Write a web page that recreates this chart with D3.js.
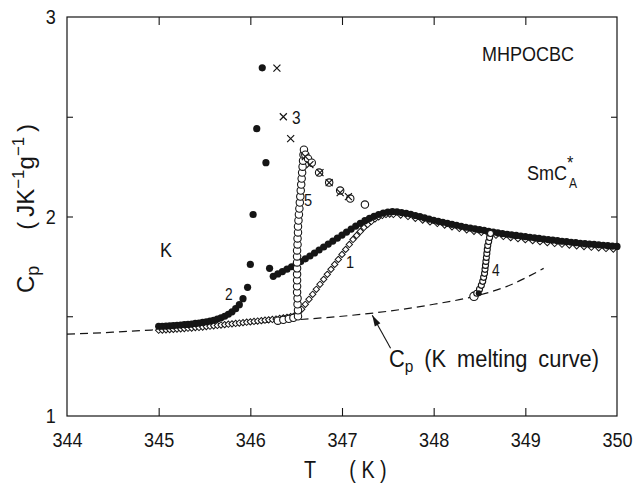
<!DOCTYPE html>
<html><head><meta charset="utf-8">
<script src="https://cdn.jsdelivr.net/npm/d3@7"></script>
<style>
html,body{margin:0;padding:0;background:#fff;}
text{font-family:"Liberation Sans",Arial,sans-serif;fill:#151515;}
</style></head><body>
<svg id="c" width="636" height="484"></svg>
<script>
// ---------- data ----------
const xTickLabels=[344,345,346,347,348,349,350];
const xMinorTicks=[345,346,347,348,349];
const yTickLabels=[1,2,3];
const yMinorTicks=[1.5,2,2.5];

// K melting curve (dashed)
const meltCurve=[[344.0,1.410],[344.5,1.420],[345.0,1.433],[345.5,1.447],[346.0,1.463],[346.5,1.482],[347.0,1.500],[347.5,1.525],[348.0,1.560],[348.4,1.595],[348.8,1.650],[349.2,1.740]];

// run 2 : filled circles
const run2Base=[[345.00,1.450],[345.04,1.450],[345.08,1.451],[345.12,1.452],[345.16,1.453],[345.20,1.455],[345.24,1.456],[345.28,1.458],[345.32,1.459],[345.36,1.461],[345.40,1.464],[345.44,1.466],[345.48,1.469],[345.52,1.472],[345.56,1.476],[345.60,1.480],[345.64,1.486],[345.68,1.492],[345.72,1.500],[345.76,1.510],[345.80,1.522],[345.84,1.538],[345.88,1.558],[345.92,1.588],[345.97,1.645]];
const run2Peak=[[346.00,1.760],[346.03,2.010],[346.07,2.440],[346.13,2.745],[346.17,2.270],[346.21,1.740]];
const run2Upper=[[346.25,1.700],[346.30,1.712],[346.35,1.724],[346.40,1.736],[346.45,1.748],[346.50,1.760],[346.55,1.774],[346.60,1.788],[346.65,1.802],[346.70,1.817],[346.75,1.832],[346.80,1.847],[346.85,1.862],[346.90,1.877],[346.95,1.892],[347.00,1.907],[347.05,1.922],[347.10,1.937],[347.15,1.952],[347.20,1.966],[347.25,1.979],[347.30,1.991],[347.35,2.001],[347.40,2.010],[347.45,2.017],[347.50,2.022],[347.55,2.024],[347.60,2.023],[347.65,2.020],[347.70,2.016],[347.75,2.011],[347.80,2.005],[347.85,1.999],[347.90,1.993],[347.95,1.987],[348.00,1.981],[348.05,1.976],[348.10,1.971],[348.15,1.966],[348.20,1.961],[348.25,1.956],[348.30,1.951],[348.35,1.946],[348.40,1.942],[348.45,1.938],[348.50,1.934],[348.55,1.930],[348.60,1.926],[348.65,1.922],[348.70,1.918],[348.75,1.914],[348.80,1.911],[348.85,1.908],[348.90,1.905],[348.95,1.902],[349.00,1.899],[349.05,1.896],[349.10,1.893],[349.15,1.890],[349.20,1.887],[349.25,1.884],[349.30,1.882],[349.35,1.879],[349.40,1.876],[349.45,1.874],[349.50,1.871],[349.55,1.869],[349.60,1.866],[349.65,1.864],[349.70,1.862],[349.75,1.860],[349.80,1.858],[349.85,1.856],[349.90,1.854],[349.95,1.852],[350.00,1.850]];

// run 1 : open diamonds
const run1=[[345.00,1.430],[345.04,1.431],[345.08,1.432],[345.12,1.433],[345.16,1.434],[345.20,1.436],[345.24,1.437],[345.28,1.438],[345.32,1.440],[345.36,1.441],[345.40,1.443],[345.44,1.444],[345.48,1.446],[345.52,1.448],[345.56,1.450],[345.60,1.452],[345.64,1.454],[345.68,1.456],[345.72,1.458],[345.76,1.460],[345.80,1.462],[345.84,1.464],[345.88,1.466],[345.92,1.468],[345.96,1.470],[346.00,1.472],[346.04,1.474],[346.08,1.476],[346.12,1.478],[346.16,1.480],[346.20,1.482],[346.24,1.484],[346.28,1.486],[346.32,1.489],[346.36,1.492],[346.40,1.495],[346.44,1.498],[346.48,1.502],[346.52,1.515],[346.56,1.535],[346.60,1.560],[346.64,1.585],[346.68,1.610],[346.72,1.635],[346.76,1.660],[346.80,1.685],[346.84,1.710],[346.88,1.735],[346.92,1.760],[346.96,1.785],[347.00,1.810],[347.04,1.835],[347.08,1.860],[347.12,1.885],[347.16,1.905],[347.20,1.925],[347.24,1.945],[347.28,1.960],[347.32,1.975],[347.36,1.988],[347.40,1.998],[347.44,2.005],[347.48,2.010],[347.52,2.012],[347.56,2.010],[347.64,2.007],[347.72,2.000],[347.80,1.991],[347.88,1.982],[347.96,1.973],[348.04,1.965],[348.12,1.957],[348.20,1.948],[348.28,1.940],[348.36,1.933],[348.44,1.926],[348.52,1.920],[348.60,1.913],[348.68,1.906],[348.76,1.900],[348.84,1.894],[348.92,1.889],[349.00,1.884],[349.08,1.879],[349.16,1.874],[349.24,1.869],[349.32,1.865],[349.40,1.861],[349.48,1.857],[349.56,1.853],[349.64,1.849],[349.72,1.846],[349.80,1.843],[349.88,1.840],[349.96,1.837]];

// run 5 : open circles
const run5=[[346.30,1.478],[346.36,1.482],[346.42,1.487],[346.47,1.492],[346.52,1.500],[346.52,1.530],[346.515,1.560],[346.515,1.590],[346.51,1.620],[346.51,1.650],[346.51,1.680],[346.51,1.710],[346.51,1.740],[346.51,1.770],[346.51,1.800],[346.51,1.830],[346.515,1.860],[346.515,1.890],[346.52,1.920],[346.52,1.950],[346.525,1.980],[346.53,2.010],[346.535,2.040],[346.54,2.070],[346.545,2.100],[346.55,2.130],[346.555,2.160],[346.56,2.190],[346.565,2.220],[346.57,2.250],[346.575,2.280],[346.58,2.310],[346.585,2.335],[346.60,2.310],[346.63,2.290],[346.67,2.270],[346.75,2.220],[346.86,2.170],[346.98,2.130],[347.09,2.090],[347.25,2.060]];

// run 3 : crosses
const run3=[[346.29,2.744],[346.36,2.500],[346.44,2.390],[346.60,2.300],[346.65,2.260],[346.76,2.220],[346.86,2.170],[346.98,2.120],[347.07,2.100]];

// run 4 : open circles
const run4=[[348.44,1.600],[348.47,1.615],[348.50,1.635],[348.52,1.655],[348.535,1.675],[348.545,1.695],[348.555,1.715],[348.56,1.735],[348.565,1.755],[348.57,1.775],[348.575,1.795],[348.58,1.815],[348.585,1.835],[348.59,1.855],[348.60,1.875],[348.61,1.895],[348.62,1.915]];

// ---------- chart ----------
const svg=d3.select("#c");
svg.append("rect").attr("width",636).attr("height",484).attr("fill","#fff");
const x=d3.scaleLinear().domain([344,350]).range([67,617]);
const y=d3.scaleLinear().domain([1,3]).range([416,17]);
const ink="#151515";
const F='"Liberation Sans",Arial,sans-serif';
const NARROW=0.86;

function styleAxis(g,fs){
  g.attr("font-family",null).attr("font-size",null);
  g.select(".domain").remove();
  g.selectAll("line").attr("stroke",ink).attr("stroke-width",1.1);
  g.selectAll("text").attr("font-size",fs).attr("fill",ink).style("font-family",F)
   .attr("transform",`scale(${NARROW},1)`);
}
// labels
svg.append("g").attr("transform","translate(0,416)")
  .call(d3.axisBottom(x).tickValues(xTickLabels).tickSize(0).tickPadding(16).tickFormat(d3.format("d")))
  .call(g=>styleAxis(g,21));
svg.append("g").attr("transform","translate(67,0)")
  .call(d3.axisLeft(y).tickValues(yTickLabels).tickSize(0).tickPadding(13).tickFormat(d3.format("d")))
  .call(g=>styleAxis(g,21));
// inward ticks
svg.append("g").attr("transform","translate(0,416)")
  .call(d3.axisBottom(x).tickValues(xMinorTicks).tickSize(-8).tickFormat(""))
  .call(g=>styleAxis(g,10));
svg.append("g").attr("transform","translate(0,17)")
  .call(d3.axisTop(x).tickValues(xMinorTicks).tickSize(-8).tickFormat(""))
  .call(g=>styleAxis(g,10));
svg.append("g").attr("transform","translate(67,0)")
  .call(d3.axisLeft(y).tickValues(yMinorTicks).tickSize(-6).tickFormat(""))
  .call(g=>styleAxis(g,10));
svg.append("g").attr("transform","translate(617,0)")
  .call(d3.axisRight(y).tickValues(yMinorTicks).tickSize(-6).tickFormat(""))
  .call(g=>styleAxis(g,10));
// frame
svg.append("rect").attr("x",x(344)).attr("y",y(3)).attr("width",x(350)-x(344)).attr("height",y(1)-y(3))
  .attr("fill","none").attr("stroke",ink).attr("stroke-width",1.2);

// dashed melt curve
svg.append("path").datum(meltCurve)
  .attr("d",d3.line().x(d=>x(d[0])).y(d=>y(d[1])).curve(d3.curveMonotoneX))
  .attr("fill","none").attr("stroke",ink).attr("stroke-width",1.2).attr("stroke-dasharray","8,5");

// run 1 diamonds
svg.append("g").selectAll("path").data(run1).join("path")
  .attr("d",d3.symbol(d3.symbolSquare,20)())
  .attr("transform",d=>`translate(${x(d[0])},${y(d[1])}) rotate(45)`)
  .attr("fill","#fff").attr("stroke",ink).attr("stroke-width",1);

// run 2 filled circles
svg.append("g").selectAll("circle").data(run2Base.concat(run2Peak,run2Upper)).join("circle")
  .attr("cx",d=>x(d[0])).attr("cy",d=>y(d[1])).attr("r",3.6).attr("fill",ink);

// run 5 open circles
svg.append("g").selectAll("circle").data(run5).join("circle")
  .attr("cx",d=>x(d[0])).attr("cy",d=>y(d[1])).attr("r",3.7)
  .attr("fill","#fff").attr("stroke",ink).attr("stroke-width",1.1);

// run 3 crosses
const cr=svg.append("g").attr("stroke",ink).attr("stroke-width",1.2);
cr.selectAll("path").data(run3).join("path")
  .attr("d",d=>{const cx=x(d[0]),cy=y(d[1]),s=3.5;return `M${cx-s},${cy-s}L${cx+s},${cy+s}M${cx-s},${cy+s}L${cx+s},${cy-s}`;});

// run 4 open circles
svg.append("g").selectAll("circle").data(run4).join("circle")
  .attr("cx",d=>x(d[0])).attr("cy",d=>y(d[1])).attr("r",(d,i)=>i===0?4.2:3)
  .attr("fill","#fff").attr("stroke",ink).attr("stroke-width",1.1);
svg.append("circle").attr("cx",x(run4[1][0])+2).attr("cy",y(run4[1][1])).attr("r",3).attr("fill",ink);

// ---------- annotations ----------
function ntext(px,py,fs,anchor,rot,k){
  return svg.append("g").attr("transform",`translate(${px},${py}) rotate(${rot||0}) scale(${k||NARROW},1)`)
    .append("text").attr("font-size",fs).attr("text-anchor",anchor||"start").style("font-family",F);
}
ntext(482,61,20,"start",0,0.9).text("MHPOCBC");
ntext(527,180,21).text("SmC");
ntext(567,169,19).text("*");
ntext(569,188,14).text("A");
ntext(160,257,21).text("K");
ntext(346,268,17).text("1");
ntext(225,300,16).text("2");
ntext(292,124,18).text("3");
ntext(492,276,16).text("4");
ntext(304,206,17).text("5");

// arrow
const a0=[x(347.53),y(1.34)], a1=[x(347.33),y(1.505)];
svg.append("line").attr("x1",a0[0]).attr("y1",a0[1]).attr("x2",a1[0]).attr("y2",a1[1]).attr("stroke",ink).attr("stroke-width",1.1);
const ang=Math.atan2(a1[1]-a0[1],a1[0]-a0[0])*180/Math.PI;
svg.append("path").attr("d","M0,0L-11,-3.2L-11,3.2Z").attr("fill",ink)
  .attr("transform",`translate(${a1[0]},${a1[1]}) rotate(${ang})`);
const mc=ntext(389,367,24,"start",0,0.91);
mc.append("tspan").text("C");
mc.append("tspan").attr("dy",5).attr("font-size",17).text("p");
mc.append("tspan").attr("dy",-5).text("\u2002(K\u2002melting\u2002curve)");

// axis titles
ntext(310,478,23,"middle").text("T");
ntext(368,478,23,"middle").text("( K )");
const yt=ntext(34,293,24,"start",-90,1.0);
yt.append("tspan").text("C");
yt.append("tspan").attr("dy",5).attr("font-size",18).text("p");
yt.append("tspan").attr("dy",-5).text("\u2003\u2002(\u2009JK");
yt.append("tspan").attr("dy",-10).attr("font-size",17).text("\u22121");
yt.append("tspan").attr("dy",10).text("g");
yt.append("tspan").attr("dy",-10).attr("font-size",17).text("\u22121");
yt.append("tspan").attr("dy",10).text("\u2009)");
</script>
</body></html>
